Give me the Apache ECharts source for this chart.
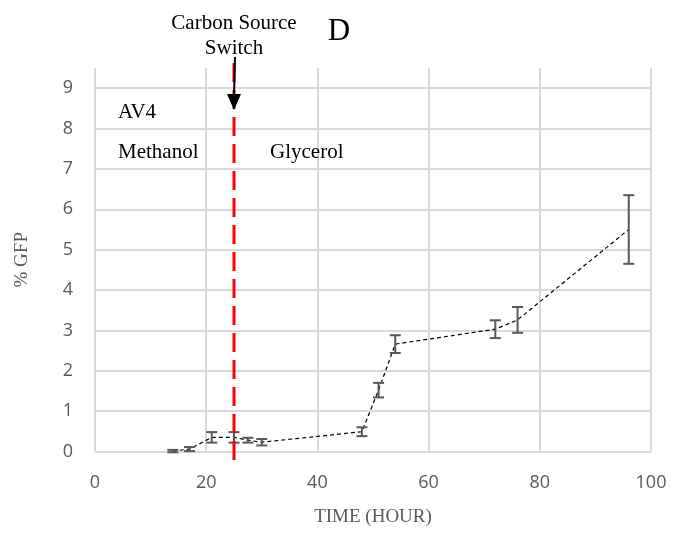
<!DOCTYPE html>
<html>
<head>
<meta charset="utf-8">
<script src="https://cdn.jsdelivr.net/npm/echarts@6/dist/echarts.min.js"></script>
<style>
  html, body { margin: 0; padding: 0; background: #fff; }
  #chart { width: 688px; height: 534px; }
</style>
</head>
<body>
<div id="chart"></div>
<script>
// time (hour), %GFP mean and error (+/-)
const hours = [14, 17, 21, 25, 27.5, 30, 48, 51, 54, 72, 76, 96];
const gfp = [0.01, 0.06, 0.35, 0.35, 0.28, 0.23, 0.49, 1.52, 2.66, 3.03, 3.26, 5.5];
const gfpErr = [0.03, 0.05, 0.13, 0.13, 0.06, 0.08, 0.11, 0.18, 0.22, 0.22, 0.32, 0.85];
const switchHour = 25;

const serif = '"Liberation Serif", "Times New Roman", serif';
const sans = '"Open Sans", Lato, sans-serif';

const chart = echarts.init(document.getElementById('chart'));

const lineData = hours.map((h, i) => [h, gfp[i]]);
const errData = hours.map((h, i) => [h, gfp[i] - gfpErr[i], gfp[i] + gfpErr[i]]);

const option = {
  animation: false,
  grid: { left: 95, right: 37, top: 68, bottom: 82.5 },
  xAxis: {
    type: 'value',
    min: 0,
    max: 100,
    interval: 20,
    name: 'TIME (HOUR)',
    nameLocation: 'middle',
    nameGap: 56,
    nameTextStyle: { fontFamily: serif, fontSize: 19, color: '#595959' },
    axisLine: { show: false },
    axisTick: { show: false },
    axisLabel: { fontFamily: sans, fontSize: 18, color: '#595959', margin: 22 },
    splitLine: { show: true, showMinLine: true, showMaxLine: true, lineStyle: { color: '#d9d9d9', width: 2 } },
  },
  yAxis: {
    type: 'value',
    min: 0,
    max: 9.5,
    interval: 1,
    name: '% GFP',
    nameLocation: 'middle',
    nameGap: 63,
    nameRotate: 90,
    nameTextStyle: { fontFamily: serif, fontSize: 19, color: '#595959' },
    axisLine: { show: false },
    axisTick: { show: false },
    axisLabel: {
      fontFamily: sans,
      fontSize: 18,
      color: '#595959',
      margin: 22,
      formatter: (v) => (Number.isInteger(v) ? String(v) : ''),
    },
    splitLine: { show: true, showMaxLine: false, lineStyle: { color: '#d9d9d9', width: 2 } },
  },
  series: [
    {
      type: 'line',
      data: lineData,
      symbol: 'none',
      lineStyle: { color: '#000', width: 1.2, type: [4, 3] },
      z: 3,
    },
    {
      type: 'custom',
      data: errData,
      z: 4,
      renderItem: (params, api) => {
        const x = api.value(0);
        const lo = api.coord([x, api.value(1)]);
        const hi = api.coord([x, api.value(2)]);
        const cap = 5.5;
        const style = { stroke: '#595959', lineWidth: 2 };
        return {
          type: 'group',
          children: [
            { type: 'line', shape: { x1: lo[0], y1: lo[1], x2: hi[0], y2: hi[1] }, style },
            { type: 'line', shape: { x1: lo[0] - cap, y1: lo[1], x2: lo[0] + cap, y2: lo[1] }, style },
            { type: 'line', shape: { x1: hi[0] - cap, y1: hi[1], x2: hi[0] + cap, y2: hi[1] }, style },
          ],
        };
      },
    },
  ],
};

chart.setOption(option);

// annotations: switch line, arrow and texts
const sx = chart.convertToPixel({ gridIndex: 0 }, [switchHour, 0])[0];
const textStyle = (txt, size) => ({ text: txt, fill: '#000', font: `${size}px ${serif}` });

chart.setOption({
  graphic: [
    {
      type: 'line',
      shape: { x1: sx, y1: 63, x2: sx, y2: 464 },
      style: { stroke: '#ff0000', lineWidth: 3, lineDash: [19, 8] },
      z: 5,
    },
    {
      type: 'line',
      shape: { x1: sx + 1, y1: 57, x2: sx, y2: 96 },
      style: { stroke: '#000', lineWidth: 2 },
      z: 6,
    },
    {
      type: 'polygon',
      shape: { points: [[sx - 7, 94], [sx + 7, 94], [sx, 110]] },
      style: { fill: '#000' },
      z: 6,
    },
    { type: 'text', x: sx, y: 23, style: Object.assign(textStyle('Carbon Source', 21), { textAlign: 'center', textVerticalAlign: 'middle' }) },
    { type: 'text', x: sx, y: 48, style: Object.assign(textStyle('Switch', 21), { textAlign: 'center', textVerticalAlign: 'middle' }) },
    { type: 'text', x: 339, y: 32, style: Object.assign(textStyle('D', 31), { textAlign: 'center', textVerticalAlign: 'middle' }) },
    { type: 'text', x: 118, y: 112, style: Object.assign(textStyle('AV4', 21), { textVerticalAlign: 'middle' }) },
    { type: 'text', x: 118, y: 152, style: Object.assign(textStyle('Methanol', 21), { textVerticalAlign: 'middle' }) },
    { type: 'text', x: 270, y: 152, style: Object.assign(textStyle('Glycerol', 21), { textVerticalAlign: 'middle' }) },
  ],
});
</script>
</body>
</html>
